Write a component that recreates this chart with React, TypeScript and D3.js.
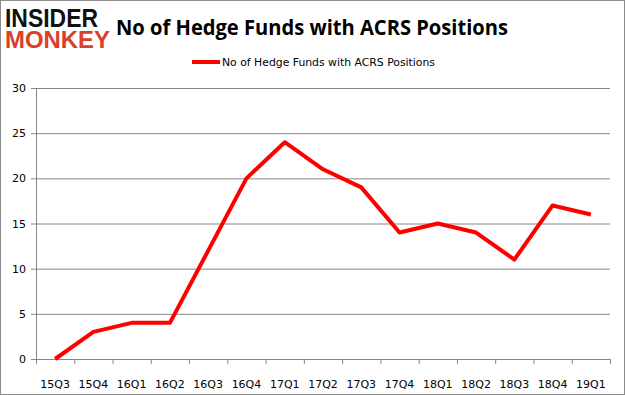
import React from "react";
import * as d3 from "d3";

const categories = ["15Q3","15Q4","16Q1","16Q2","16Q3","16Q4","17Q1","17Q2","17Q3","17Q4","18Q1","18Q2","18Q3","18Q4","19Q1"];
const values = [0,3,4,4,12,20,24,21,19,14,15,14,11,17,16];
const yTicks = [0,5,10,15,20,25,30];
const seriesName = "No of Hedge Funds with ACRS Positions";
const title = "No of Hedge Funds with ACRS Positions";

export default function App() {
  const W = 625, H = 395;
  const left = 36, right = 610, top = 88, bottom = 359;
  const x = d3.scaleBand<string>().domain(categories).range([left, right]);
  const y = d3.scaleLinear().domain([0, 30]).range([bottom, top]);
  const line = d3.line<number>()
    .x((_, i) => (x(categories[i]) as number) + x.bandwidth() / 2)
    .y(d => y(d));
  const font = "'DejaVu Sans', Verdana, sans-serif";
  const grid = "#868686";
  const tickEdges = [...categories.map(c => x(c) as number), right];
  return (
    <svg width={W} height={H} style={{ position: "absolute", left: 0, top: 0 }}>
      <rect x={0.5} y={0.5} width={W - 1} height={H - 1} fill="#fff" stroke="#8c8c8c" />
      <text x={5} y={27} fontFamily="'Liberation Sans', Arial, sans-serif" fontWeight={900} fontSize={25} fill="#111" textLength={93} lengthAdjust="spacingAndGlyphs">INSIDER</text>
      <text x={5} y={48} fontFamily="'Liberation Sans', Arial, sans-serif" fontWeight={700} fontSize={23} fill="#d9402b" textLength={105} lengthAdjust="spacingAndGlyphs">MONKEY</text>
      <text x={116} y={35} fontFamily="'Open Sans', 'Liberation Sans', sans-serif" fontWeight={700} fontSize={21} fill="#000" textLength={392} lengthAdjust="spacingAndGlyphs">{title}</text>
      <line x1={192} x2={220} y1={62} y2={62} stroke="#ff0000" strokeWidth={4} />
      <text x={222} y={66} fontFamily={font} fontSize={11} fill="#000" textLength={213} lengthAdjust="spacingAndGlyphs">{seriesName}</text>
      {yTicks.map(t => (
        <g key={t}>
          <line x1={left - 5} x2={right} y1={y(t) + 0.5} y2={y(t) + 0.5} stroke={grid} strokeWidth={1} />
          <text x={26} y={y(t) + 4} textAnchor="end" fontFamily={font} fontSize={11} fill="#000">{t}</text>
        </g>
      ))}
      <line x1={left + 0.5} x2={left + 0.5} y1={top} y2={bottom} stroke={grid} />
      {tickEdges.map((e, i) => (
        <line key={i} x1={e + 0.5} x2={e + 0.5} y1={bottom} y2={bottom + 5} stroke={grid} />
      ))}
      {categories.map(c => (
        <text key={c} x={(x(c) as number) + x.bandwidth() / 2} y={388} textAnchor="middle" fontFamily={font} fontSize={11} fill="#000">{c}</text>
      ))}
      <path d={line(values) || ""} fill="none" stroke="#ff0000" strokeWidth={4} strokeLinejoin="round" />
    </svg>
  );
}
